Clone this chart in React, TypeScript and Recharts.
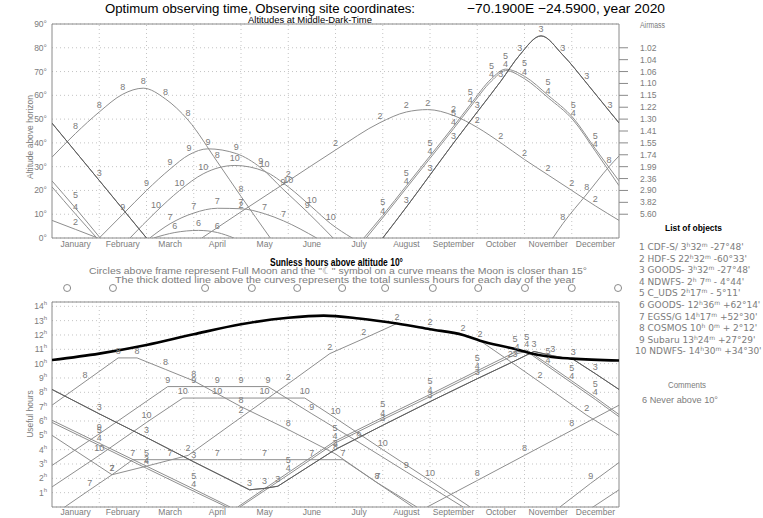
import React from "react";
import {
  LineChart,
  Line,
  XAxis,
  YAxis,
  CartesianGrid,
  ReferenceLine,
  ReferenceArea,
  LabelList,
  ScatterChart,
  Scatter,
} from "recharts";

type Pt = [number, number];

// x is in months from Jan 1 (0..12)
const monthNames = ["January", "February", "March", "April", "May", "June", "July", "August", "September", "October", "November", "December"];
const monthMids = [0.5, 1.5, 2.5, 3.5, 4.5, 5.5, 6.5, 7.5, 8.5, 9.5, 10.5, 11.5];
const monthEdges = [1, 2, 3, 4, 5, 6, 7, 8, 9, 10, 11];
const altTicks = [0, 10, 20, 30, 40, 50, 60, 70, 80, 90];
const airmassAlts = [80, 75, 70, 65, 60, 55, 50, 45, 40, 35, 30, 25, 20, 15, 10];
const airmassLabels = ["1.02", "1.04", "1.06", "1.10", "1.15", "1.22", "1.30", "1.41", "1.55", "1.74", "1.99", "2.36", "2.90", "3.82", "5.60"];
const hourTicks = [1, 2, 3, 4, 5, 6, 7, 8, 9, 10, 11, 12, 13, 14];
const fullMoons = [0.32, 1.29, 3.24, 4.23, 5.19, 6.14, 7.05, 8.06, 9.02, 10.01, 11.0, 11.98];

// altitude at middle-dark-time (degrees)
const alt3a: Pt[] = [[0, 48.3], [1.0, 24.2], [2.0, 0]];
const alt3b: Pt[] = [[7.0, 0], [7.5, 13], [8.0, 26.5], [8.5, 40], [9.0, 53], [9.5, 66], [9.9, 77], [10.35, 85], [10.81, 77], [11.32, 65], [11.81, 53], [12, 48.4]];
const alt1a = alt3a; // same field as 3
const alt1b = alt3b;
const alt4a: Pt[] = [[0, 21.5], [0.5, 10], [0.95, 0]];
const alt5a: Pt[] = [[0, 24], [0.5, 12.5], [1.02, 0]];
const alt4b: Pt[] = [[6.65, 0], [7.0, 8.5], [7.5, 21], [8.0, 33.5], [8.5, 46], [8.85, 55], [9.3, 66], [9.6, 70.4], [10.0, 67], [10.5, 59], [11.03, 49.6], [11.5, 36.5], [12, 22]];
const alt5b: Pt[] = [[6.6, 0], [7.0, 9.5], [7.5, 22], [8.0, 34.5], [8.5, 47], [8.85, 56], [9.3, 67], [9.6, 71], [10.0, 68], [10.5, 60], [11.03, 50.5], [11.5, 37.5], [12, 24]];
const alt2a: Pt[] = [[0, 7.4], [0.5, 3.6], [0.97, 0]];
const alt2b: Pt[] = [[3.17, 0], [4.0, 11], [5.0, 24], [6.0, 37], [6.94, 48.5], [7.5, 53], [7.95, 54], [8.5, 51.5], [9.0, 46.5], [9.5, 40], [10.0, 33], [10.5, 26.5], [11.0, 20], [11.5, 13.5], [12, 7.4]];
const alt6: Pt[] = [[2.15, 0], [2.6, 2.3], [3.1, 3.2], [3.5, 2.3], [3.85, 0]];
const alt7: Pt[] = [[2.07, 0], [2.5, 6], [3.0, 10.5], [3.5, 12.5], [4.0, 12.3], [4.5, 10.2], [4.9, 7.2], [5.6, 0]];
const alt8a: Pt[] = [[0, 34], [0.5, 44], [1.0, 53], [1.5, 60.5], [1.93, 63], [2.4, 58.5], [2.88, 49.6], [3.5, 32], [4.0, 17.5], [4.62, 0]];
const alt8b: Pt[] = [[10.6, 0], [10.81, 6], [11.32, 18.5], [11.79, 30], [12, 34.5]];
const alt9: Pt[] = [[1.0, 0], [1.5, 10], [2.0, 20], [2.5, 29], [2.9, 35], [3.3, 37.5], [3.9, 35.5], [4.42, 29.5], [4.89, 20.5], [5.4, 11], [5.95, 0]];
const alt10: Pt[] = [[1.65, 0], [2.2, 11], [2.7, 20], [3.2, 27], [3.87, 30.5], [4.5, 28], [5.0, 21.5], [5.5, 13], [5.9, 6], [6.35, 0]];

// useful hours above 10 deg
const sunless: Pt[] = [[0, 10.25], [1.0, 10.7], [2.0, 11.3], [3.0, 12.05], [4.0, 12.75], [5.0, 13.2], [5.75, 13.35], [6.5, 13.15], [7.3, 12.8], [8.0, 12.4], [8.7, 12.0], [9.06, 11.6], [9.76, 11.05], [10.1, 10.75], [10.5, 10.5], [11.0, 10.35], [12, 10.22]];
const hrs3: Pt[] = [[0, 8.2], [1.0, 6.5], [2.0, 4.85], [3.0, 3.15], [4.18, 1.2], [4.5, 1.3], [4.78, 1.45], [5.99, 4.0], [7.0, 5.7], [8.0, 7.35], [9.0, 8.95], [9.8, 10.2], [10.2, 10.85], [10.6, 10.55], [11.03, 10.3], [11.5, 9.3], [12, 8.2]];
const hrs1 = hrs3;
const hrs4a: Pt[] = [[0, 5.9], [1.0, 4.3], [2.0, 2.7], [3.0, 1.1], [3.7, 0]];
const hrs5a: Pt[] = [[0, 6.05], [1.0, 4.45], [2.0, 2.85], [3.0, 1.25], [3.77, 0]];
const hrs4b: Pt[] = [[3.98, 0], [5.0, 2.25], [5.99, 4.46], [7.0, 6.1], [8.0, 7.7], [9.0, 9.35], [9.84, 10.7], [10.05, 10.85], [10.5, 9.8], [11.0, 8.65], [11.5, 7.5], [12, 6.3]];
const hrs5b: Pt[] = [[3.93, 0], [5.0, 2.4], [5.99, 4.6], [7.0, 6.25], [8.0, 7.85], [9.0, 9.5], [9.8, 10.8], [10.05, 10.95], [10.5, 9.95], [11.0, 8.8], [11.5, 7.65], [12, 6.45]];
const hrs2: Pt[] = [[0, 5.0], [1.27, 2.25], [2.0, 2.85], [2.88, 3.6], [4.0, 6.25], [5.0, 8.6], [5.88, 10.7], [6.6, 11.75], [7.3, 12.8], [8.0, 12.4], [8.7, 12.0], [9.06, 11.6], [9.7, 10.15], [10.33, 8.7], [11.32, 6.4], [12, 5.0]];
const hrs7: Pt[] = [[0.27, 0], [0.8, 1.2], [1.27, 2.25], [1.71, 3.3], [2.5, 3.3], [3.5, 3.3], [4.5, 3.3], [5.5, 3.3], [6.16, 3.3], [6.9, 1.65], [7.64, 0]];
const hrs8a: Pt[] = [[0, 7.1], [0.7, 8.75], [1.4, 10.4], [1.8, 10.4], [2.4, 9.6], [3.0, 8.8], [4.0, 7.0], [5.0, 5.4], [6.0, 3.7], [6.88, 1.7], [7.72, 0]];
const hrs8b: Pt[] = [[7.94, 0], [9.0, 1.85], [10.0, 3.6], [11.0, 5.35], [12, 7.1]];
const hrs9a: Pt[] = [[0, 2.9], [1.0, 5.1], [2.45, 8.4], [3.0, 8.4], [3.5, 8.4], [4.0, 8.4], [4.57, 8.4], [5.5, 6.5], [6.5, 4.5], [7.5, 2.45], [8.7, 0]];
const hrs9b: Pt[] = [[10.75, 0], [11.4, 1.65], [12, 3.1]];
const hrs10a: Pt[] = [[0, 1.4], [1.0, 3.6], [2.0, 5.9], [2.77, 7.6], [3.5, 7.6], [4.5, 7.6], [5.35, 7.6], [6.0, 6.2], [7.0, 4.0], [8.0, 1.85], [8.85, 0]];
const hrs10b: Pt[] = [[11.45, 0], [12, 1.2]];

const objNames = ["CDF-S/", "HDF-S", "GOODS-", "NDWFS-", "C_UDS", "GOODS-", "EGSS/G", "COSMOS", "Subaru", "NDWFS-"];
const objRaH = ["3", "22", "3", "2", "2", "12", "14", "10", "13", "14"];
const objRaM = ["32", "32", "32", " 7", "17", "36", "17", " 0", "24", "30"];
const objDec = ["-27°48'", "-60°33'", "-27°48'", "- 4°44'", "- 5°11'", "+62°14'", "+52°30'", "+ 2°12'", "+27°29'", "+34°30'"];

const FONT = "'Liberation Sans', Arial, sans-serif";
const WIDE = "'DejaVu Sans', sans-serif";
const LINE = "#8e8e8e";
const DARK = "#5c5c5c";
const TXT = "#7c7c7c";
const GRID = "#c4c4c4";

type Curve = { id: number; pts: Pt[]; dark?: boolean; lab?: boolean; dy?: number };

const topCurves: Curve[] = [
  { id: 2, pts: alt2a }, { id: 2, pts: alt2b },
  { id: 4, pts: alt4a }, { id: 4, pts: alt4b },
  { id: 5, pts: alt5a, dy: -10 }, { id: 5, pts: alt5b, dy: -10 },
  { id: 6, pts: alt6 }, { id: 7, pts: alt7 },
  { id: 8, pts: alt8a }, { id: 8, pts: alt8b },
  { id: 9, pts: alt9 }, { id: 10, pts: alt10 },
  { id: 1, pts: alt1a, dark: true, lab: false }, { id: 1, pts: alt1b, dark: true, lab: false },
  { id: 3, pts: alt3a, dark: true }, { id: 3, pts: alt3b, dark: true },
];

const bottomCurves: Curve[] = [
  { id: 2, pts: hrs2 },
  { id: 4, pts: hrs4a }, { id: 4, pts: hrs4b },
  { id: 5, pts: hrs5a, dy: -10 }, { id: 5, pts: hrs5b, dy: -10 },
  { id: 7, pts: hrs7 },
  { id: 8, pts: hrs8a }, { id: 8, pts: hrs8b },
  { id: 9, pts: hrs9a }, { id: 9, pts: hrs9b },
  { id: 10, pts: hrs10a }, { id: 10, pts: hrs10b },
  { id: 1, pts: hrs1, dark: true, lab: false },
  { id: 3, pts: hrs3, dark: true },
];

const toRows = (pts: Pt[], id: number) =>
  pts.map(([m, v]) => ({ m, v, lab: m > 0.15 && m < 11.85 && v > 0 ? id : null }));

const curveLabel = (dy: number) => (p: any) => {
  if (p.value == null) return null;
  const x = p.x ?? p.viewBox?.x;
  const y = p.y ?? p.viewBox?.y;
  if (x == null || y == null) return null;
  return (
    <text x={x} y={y + dy} textAnchor="middle" fontSize={9} fontFamily={FONT} fill={TXT}>
      {p.value}
    </text>
  );
};

function curveLines(curves: Curve[], axisId: string, type: "monotone" | "linear") {
  return curves.map((c, i) => (
    <Line
      key={`${c.id}-${i}`}
      yAxisId={axisId}
      data={toRows(c.pts, c.id)}
      dataKey="v"
      type={type}
      stroke={c.dark ? DARK : LINE}
      strokeWidth={c.dark ? 0.9 : 1}
      dot={false}
      isAnimationActive={false}
    >
      {c.lab !== false && <LabelList dataKey="lab" content={curveLabel(c.dy ?? -4)} />}
    </Line>
  ));
}

const degTick = (p: any) => (
  <text x={p.x} y={p.y + 3} textAnchor="end" fontSize={8.5} fontFamily={FONT} fill={TXT}>
    {p.payload.value}°
  </text>
);

const amTick = (p: any) => {
  const i = airmassAlts.indexOf(Number(p.payload.value));
  return (
    <text x={p.x} y={p.y + 3} textAnchor="start" fontSize={8.5} fontFamily={FONT} fill={TXT}>
      {i >= 0 ? airmassLabels[i] : ""}
    </text>
  );
};

const hourTick = (p: any) => (
  <text x={p.x} y={p.y + 3} textAnchor="end" fontSize={8.5} fontFamily={FONT} fill={TXT}>
    {p.payload.value}
    <tspan dy={-4} fontSize={6}>h</tspan>
  </text>
);

const monthTick = { fontSize: 8.5, fill: TXT, fontFamily: FONT };

function ObjectList() {
  return (
    <g fontFamily={WIDE} fontSize={9} fill={TXT}>
      {objNames.map((n, i) => (
        <text key={n + i} x={i === 9 ? 635 : 639} y={250 + i * 11.6} style={{ whiteSpace: "pre" }}>
          {`${i + 1} ${n} `}
          <tspan>{objRaH[i]}</tspan>
          <tspan dy={-3} fontSize={6}>h</tspan>
          <tspan dy={3}>{objRaM[i]}</tspan>
          <tspan dy={-3} fontSize={6}>m</tspan>
          <tspan dy={3}>{` ${objDec[i]}`}</tspan>
        </text>
      ))}
    </g>
  );
}

export default function App() {
  const moonRows = fullMoons.map((m) => ({ m, y: 0.5 }));
  const airmassRows = airmassAlts.map((a, i) => ({ m: i * 0.5, v: a }));
  return (
    <div style={{ position: "absolute", left: 0, top: 0, width: 763, height: 518, overflow: "hidden", background: "#fff" }}>
      <div style={{ position: "absolute", left: 0, top: 0 }}>
        <LineChart width={763} height={262} margin={{ top: 24, right: 84, bottom: 0, left: 0 }}>
          <CartesianGrid yAxisId="alt" vertical={false} stroke={GRID} strokeDasharray="1 3" />
          <XAxis type="number" dataKey="m" domain={[0, 12]} ticks={monthMids} interval={0}
            tickFormatter={(v: number) => monthNames[Math.floor(v)]} axisLine={false} tickLine={false}
            tickSize={0} tickMargin={3} height={24} tick={monthTick} allowDataOverflow />
          <YAxis yAxisId="alt" type="number" domain={[0, 90]} ticks={altTicks} interval={0} width={52} axisLine={false}
            tickLine={false} tickSize={0} tickMargin={5} tick={degTick} allowDataOverflow />
          <YAxis yAxisId="am" type="number" orientation="right" domain={[0, 90]} ticks={airmassAlts} interval={0}
            width={60} axisLine={false} tickSize={9} tickMargin={12} tickLine={{ stroke: "#8a8a8a" }} tick={amTick}
            allowDataOverflow />
          {monthEdges.map((e) => (
            <ReferenceLine key={e} yAxisId="alt" x={e} stroke={GRID} strokeDasharray="1 3" />
          ))}
          <ReferenceArea yAxisId="alt" x1={0} x2={12} y1={0} y2={90} fill="none" fillOpacity={0} stroke="#8a8a8a" />
          <Line yAxisId="am" data={airmassRows} dataKey="v" stroke="none" dot={false} activeDot={false}
            legendType="none" isAnimationActive={false} />
          {curveLines(topCurves, "alt", "monotone")}
        </LineChart>
      </div>

      <div style={{ position: "absolute", left: 0, top: 278 }}>
        <ScatterChart width={763} height={20} margin={{ top: 0, right: 144, bottom: 0, left: 52 }}>
          <XAxis type="number" dataKey="m" domain={[0, 12]} hide />
          <YAxis type="number" dataKey="y" domain={[0, 1]} hide />
          <Scatter data={moonRows} isAnimationActive={false}
            shape={(p: any) => <circle cx={p.cx} cy={p.cy} r={3.5} fill="#fff" stroke="#8a8a8a" />} />
        </ScatterChart>
      </div>

      <div style={{ position: "absolute", left: 0, top: 280 }}>
        <LineChart width={763} height={238} margin={{ top: 22, right: 144, bottom: 0, left: 0 }}>
          <CartesianGrid yAxisId="hrs" vertical={false} stroke={GRID} strokeDasharray="1 3" />
          <XAxis type="number" dataKey="m" domain={[0, 12]} ticks={monthMids} interval={0}
            tickFormatter={(v: number) => monthNames[Math.floor(v)]} axisLine={false} tickLine={false}
            tickSize={0} tickMargin={2} height={11} tick={monthTick} allowDataOverflow />
          <YAxis yAxisId="hrs" type="number" domain={[0, 14.3]} ticks={hourTicks} interval={0} width={52}
            axisLine={false} tickLine={false} tickSize={0} tickMargin={5} tick={hourTick} allowDataOverflow />
          {monthEdges.map((e) => (
            <ReferenceLine key={e} yAxisId="hrs" x={e} stroke={GRID} strokeDasharray="1 3" />
          ))}
          <ReferenceArea yAxisId="hrs" x1={0} x2={12} y1={0} y2={14.3} fill="none" fillOpacity={0} stroke="#8a8a8a" />
          {curveLines(bottomCurves, "hrs", "linear")}
          <Line yAxisId="hrs" data={toRows(sunless, 0)} dataKey="v" type="monotone" stroke="#000"
            strokeWidth={2.6} dot={false} isAnimationActive={false} />
        </LineChart>
      </div>

      <svg width={763} height={518} style={{ position: "absolute", left: 0, top: 0, pointerEvents: "none" }}>
        <g fontFamily={FONT}>
          <text x={105} y={13} fontSize={13} fill="#000" textLength={310} lengthAdjust="spacingAndGlyphs">
            Optimum observing time, Observing site coordinates:
          </text>
          <text x={467} y={13} fontSize={13} fill="#000" textLength={198} lengthAdjust="spacingAndGlyphs">
            −70.1900E −24.5900, year 2020
          </text>
          <text x={248} y={23} fontSize={9.5} fill="#000" textLength={124} lengthAdjust="spacingAndGlyphs">
            Altitudes at Middle-Dark-Time
          </text>
          <text x={640} y={28} fontSize={8.5} fill={TXT} textLength={25} lengthAdjust="spacingAndGlyphs">Airmass</text>
          <text transform="translate(33,137) rotate(-90)" textAnchor="middle" fontSize={8.5} fill={TXT}>
            Altitude above horizon
          </text>
          <text transform="translate(33,414) rotate(-90)" textAnchor="middle" fontSize={8.5} fill={TXT}>
            Useful hours
          </text>
          <text x={270} y={266} fontSize={10} fontWeight="bold" fill="#000" textLength={133} lengthAdjust="spacingAndGlyphs">
            Sunless hours above altitude 10°
          </text>
          <text x={89} y={274} fontSize={9.5} fill={TXT} textLength={498} lengthAdjust="spacingAndGlyphs">
            Circles above frame represent Full Moon and the "☾" symbol on a curve means the Moon is closer than 15°
          </text>
          <text x={115} y={283} fontSize={9.5} fill={TXT} textLength={460} lengthAdjust="spacingAndGlyphs">
            The thick dotted line above the curves represents the total sunless hours for each day of the year
          </text>
          <text x={665} y={231} fontSize={9} fontWeight="bold" fill="#000" textLength={57} lengthAdjust="spacingAndGlyphs">
            List of objects
          </text>
          <ObjectList />
          <text x={668} y={388} fontSize={9} fill={TXT} textLength={38} lengthAdjust="spacingAndGlyphs">Comments</text>
          <text x={642} y={403} fontSize={9} fill={TXT} textLength={76} lengthAdjust="spacingAndGlyphs">6 Never above 10°</text>
        </g>
      </svg>
    </div>
  );
}
